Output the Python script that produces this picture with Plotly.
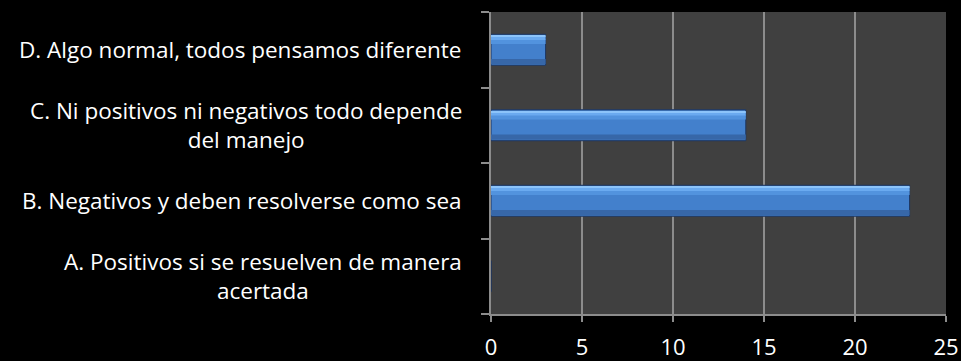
import plotly.graph_objects as go

# Survey answers (bottom to top on the chart)
categories = ["A", "B", "C", "D"]
labels = [
    "A. Positivos si se resuelven de manera<br>acertada",
    "B. Negativos y deben resolverse como sea",
    "C. Ni positivos ni negativos todo depende<br>del manejo",
    "D. Algo normal, todos pensamos diferente",
]
values = [0, 23, 14, 3]
x_ticks = [0, 5, 10, 15, 20, 25]

BAR_W = 0.41
FONT_FAMILY = "Open Sans, sans-serif"
LABEL_FONT = dict(family=FONT_FAMILY, size=22.5, color="white")
LABEL_PAD = -27        # space between labels and the plot area

# bevel layers drawn over the bar body: (offset from bar centre, thickness, colour)
bevel_layers = [
    (-BAR_W / 2 + 0.012, 0.07, "#3767a8"),
    (BAR_W / 2 - 0.13, 0.06, "#5293de"),
    (BAR_W / 2 - 0.075, 0.05, "#6aaaf0"),
    (BAR_W / 2 - 0.035, 0.02, "#8cc4fa"),
]

fig = go.Figure()

# main body of each bar
fig.add_trace(go.Bar(
    y=categories, x=values, orientation="h",
    width=BAR_W, offset=-BAR_W / 2,
    marker=dict(color="#4380cc", line=dict(color="#1c3560", width=1)),
    hoverinfo="skip", showlegend=False,
))
for off, thick, col in bevel_layers:
    fig.add_trace(go.Bar(
        y=categories, x=values, orientation="h",
        width=thick, offset=off,
        marker=dict(color=col, line=dict(width=0)),
        hoverinfo="skip", showlegend=False,
    ))

# category labels; a wrapped second line is centred under the first
for cat, lab in zip(categories, labels):
    fig.add_annotation(
        x=0, xref="paper", y=cat, yref="y", text=lab, showarrow=False,
        xanchor="right", yanchor="middle", align="center",
        xshift=LABEL_PAD, font=LABEL_FONT,
    )

fig.update_layout(
    width=961, height=361,
    margin=dict(l=491, r=15, t=12, b=47, autoexpand=False),
    paper_bgcolor="black", plot_bgcolor="#404040",
    barmode="overlay",
    xaxis=dict(
        range=[0, 25], tickvals=x_ticks, ticktext=[str(v) for v in x_ticks],
        showgrid=True, gridcolor="#8c8c8c", gridwidth=1.5,
        showline=True, linecolor="#8c8c8c", linewidth=1.5,
        ticks="outside", ticklen=6, tickcolor="#8c8c8c", tickwidth=1.5,
        tickfont=dict(family=FONT_FAMILY, size=22, color="white"),
        ticklabelstandoff=7, zeroline=False, fixedrange=True,
        automargin=False,
    ),
    yaxis=dict(
        categoryorder="array", categoryarray=categories,
        showticklabels=False, showgrid=False,
        showline=True, linecolor="#8c8c8c", linewidth=1.5,
        ticks="outside", ticklen=8, tickcolor="#8c8c8c", tickwidth=1.5,
        tickson="boundaries", fixedrange=True, automargin=False,
    ),
)

fig.write_html("out.html")
